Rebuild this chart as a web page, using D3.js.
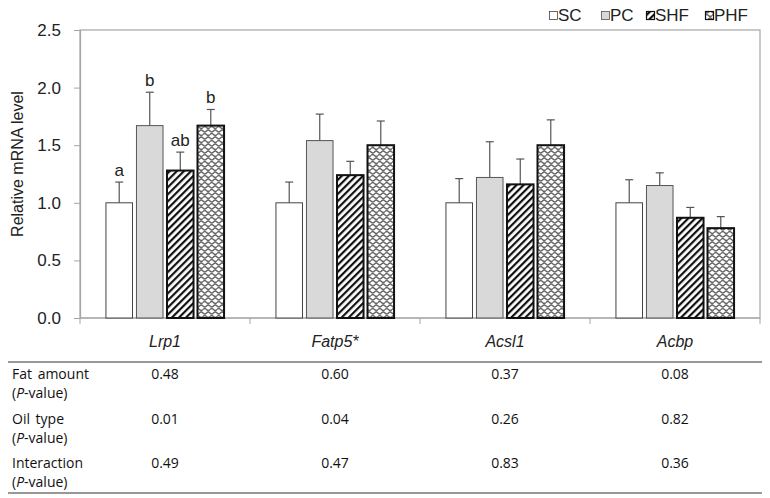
<!DOCTYPE html>
<html>
<head>
<meta charset="utf-8">
<script src="https://cdn.jsdelivr.net/npm/d3@7"></script>
<style>
  body { margin: 0; background: #fff; }
  svg { display: block; }
</style>
</head>
<body>
<div id="chart"></div>
<script>
// data
const genes = ["Lrp1", "Fatp5*", "Acsl1", "Acbp"]
const groups = ["SC", "PC", "SHF", "PHF"]
const means = {
  SC:  [1.00, 1.00, 1.00, 1.00],
  PC:  [1.67, 1.54, 1.22, 1.15],
  SHF: [1.28, 1.24, 1.16, 0.87],
  PHF: [1.67, 1.50, 1.50, 0.78]
}
const errs = {
  SC:  [0.18, 0.18, 0.21, 0.20],
  PC:  [0.29, 0.23, 0.31, 0.11],
  SHF: [0.16, 0.12, 0.22, 0.09],
  PHF: [0.14, 0.21, 0.22, 0.10]
}
// significance letters (only Lrp1 has them)
const letters = {
  SC: ["a", "", "", ""],
  PC: ["b", "", "", ""],
  SHF: ["ab", "", "", ""],
  PHF: ["b", "", "", ""]
}
const yTicks = [0, 0.5, 1.0, 1.5, 2.0, 2.5]
const rowLabels = [["Fat amount", "P"], ["Oil type", "P"], ["Interaction", "P"]]
const pFat = ["0.48", "0.60", "0.37", "0.08"]
const pOil = ["0.01", "0.04", "0.26", "0.82"]
const pInter = ["0.49", "0.47", "0.83", "0.36"]

//dimensions
const width = 770, height = 498
const plot = { left: 80, right: 760, top: 30, bottom: 318 }

const svg = d3.select("#chart").append("svg")
  .attr("width", width).attr("height", height)
  .style("font-family", "'Liberation Sans', Arial, sans-serif")

//patterns
const defs = svg.append("defs")
const hatch = defs.append("pattern").attr("id", "hatch")
  .attr("patternUnits", "userSpaceOnUse").attr("width", 5).attr("height", 5)
  .attr("patternTransform", "rotate(45)")
hatch.append("rect").attr("width", 5).attr("height", 5).attr("fill", "#fff")
hatch.append("rect").attr("width", 2.2).attr("height", 5).attr("fill", "#111")

const wave = defs.append("pattern").attr("id", "wave")
  .attr("patternUnits", "userSpaceOnUse").attr("width", 7).attr("height", 7)
wave.append("rect").attr("width", 7).attr("height", 7).attr("fill", "#fff")
wave.append("path")
  .attr("d", "M0,1.5 Q1.75,-0.5 3.5,1.5 T7,1.5 M-3.5,5 Q-1.75,3 0,5 T3.5,5 T7,5 T10.5,5")
  .attr("fill", "none").attr("stroke", "#666").attr("stroke-width", 1.3)

const fills = { SC: "#fff", PC: "#d9d9d9", SHF: "url(#hatch)", PHF: "url(#wave)" }
const strokes = { SC: "#444", PC: "#555", SHF: "#111", PHF: "#111" }
const strokeW = { SC: 1, PC: 1, SHF: 2, PHF: 2 }

//scales
const x0 = d3.scaleBand().domain(genes).range([plot.left, plot.right]).padding(0)
const x1 = d3.scaleBand().domain(groups).range([0, x0.bandwidth()])
  .paddingInner(0.13).paddingOuter(0.85)
const y = d3.scaleLinear().domain([0, 2.5]).range([plot.bottom, plot.top])

//frame
svg.append("rect")
  .attr("x", plot.left).attr("y", plot.top)
  .attr("width", plot.right - plot.left).attr("height", plot.bottom - plot.top)
  .attr("fill", "none").attr("stroke", "#a6a6a6").attr("stroke-width", 1.2)

//y axis
const yAxis = svg.append("g").attr("transform", `translate(${plot.left},0)`)
  .call(d3.axisLeft(y).tickValues(yTicks).tickFormat(d3.format(".1f")).tickSize(6).tickPadding(13))
yAxis.select(".domain").attr("stroke", "#a6a6a6").attr("stroke-width", 1.2)
yAxis.selectAll(".tick line").attr("stroke", "#a6a6a6")
yAxis.selectAll(".tick text").attr("font-size", 17).attr("fill", "#222")
  .style("font-family", "'Liberation Sans', Arial, sans-serif")

svg.append("text")
  .attr("transform", `translate(23,164) rotate(-90)`)
  .attr("text-anchor", "middle")
  .attr("font-size", 16).attr("fill", "#222")
  .text("Relative mRNA level")

//x axis
const xAxis = svg.append("g").attr("transform", `translate(0,${plot.bottom})`)
xAxis.append("line").attr("x1", plot.left).attr("x2", plot.right)
  .attr("stroke", "#a6a6a6").attr("stroke-width", 1.2)
xAxis.selectAll(".xt")
  .data(genes.map(g => x0(g)).concat([plot.right]))
  .enter().append("line")
  .attr("x1", d => d).attr("x2", d => d).attr("y1", 0).attr("y2", 6)
  .attr("stroke", "#a6a6a6")

svg.selectAll(".gene")
  .data(genes).enter().append("text")
  .attr("x", d => x0(d) + x0.bandwidth() / 2)
  .attr("y", 347)
  .attr("text-anchor", "middle")
  .attr("font-size", 16).attr("font-style", "italic").attr("fill", "#222")
  .text(d => d)

//bars
const barData = []
genes.forEach((g, i) => {
  groups.forEach(s => {
    barData.push({ gene: g, group: s, value: means[s][i], err: errs[s][i], letter: letters[s][i] })
  })
})

const bars = svg.append("g")
const barX = d => x0(d.gene) + x1(d.group)

bars.selectAll(".err")
  .data(barData).enter().append("line")
  .attr("x1", d => barX(d) + x1.bandwidth() / 2)
  .attr("x2", d => barX(d) + x1.bandwidth() / 2)
  .attr("y1", d => y(d.value)).attr("y2", d => y(d.value + d.err))
  .attr("stroke", "#555").attr("stroke-width", 1.2)
bars.selectAll(".cap")
  .data(barData).enter().append("line")
  .attr("x1", d => barX(d) + x1.bandwidth() / 2 - 4)
  .attr("x2", d => barX(d) + x1.bandwidth() / 2 + 4)
  .attr("y1", d => y(d.value + d.err)).attr("y2", d => y(d.value + d.err))
  .attr("stroke", "#555").attr("stroke-width", 1.2)

bars.selectAll(".bar")
  .data(barData).enter().append("rect")
  .attr("x", barX)
  .attr("y", d => y(d.value))
  .attr("width", x1.bandwidth())
  .attr("height", d => y(0) - y(d.value))
  .attr("fill", d => fills[d.group])
  .attr("stroke", d => strokes[d.group])
  .attr("stroke-width", d => strokeW[d.group])

bars.selectAll(".letter")
  .data(barData.filter(d => d.letter)).enter().append("text")
  .attr("x", d => barX(d) + x1.bandwidth() / 2)
  .attr("y", d => y(d.value + d.err) - 6)
  .attr("text-anchor", "middle")
  .attr("font-size", 17).attr("fill", "#222")
  .text(d => d.letter)

//legend
const legendX = [549, 601, 646, 705]
const legend = svg.append("g")
groups.forEach((s, i) => {
  const item = legend.append("g").attr("transform", `translate(${legendX[i]},7)`)
  item.append("rect").attr("x", 0.5).attr("y", 4.5).attr("width", 8).attr("height", 8)
    .attr("fill", fills[s]).attr("stroke", strokes[s]).attr("stroke-width", s === "SC" || s === "PC" ? 0.8 : 1.2)
  item.append("text").attr("x", 9).attr("y", 13.5)
    .attr("font-size", 17).attr("fill", "#222").text(s)
})

//table
const table = svg.append("g").style("font-family", "'Open Sans', 'Noto Sans', sans-serif")
table.append("line").attr("x1", 8).attr("x2", 762).attr("y1", 362).attr("y2", 362)
  .attr("stroke", "#333").attr("stroke-width", 1.2)
table.append("line").attr("x1", 8).attr("x2", 762).attr("y1", 493).attr("y2", 493)
  .attr("stroke", "#333").attr("stroke-width", 1.2)

const rowY = [379, 424, 468]
const rowValues = [pFat, pOil, pInter]
rowLabels.forEach((r, i) => {
  table.append("text").attr("x", 12).attr("y", rowY[i])
    .attr("font-size", 14).attr("fill", "#111")
    .attr("word-spacing", r[0] === "Fat amount" || r[0] === "Oil type" ? 2 : 0)
    .text(r[0])
  const t = table.append("text").attr("x", 12).attr("y", rowY[i] + 19)
    .attr("font-size", 14).attr("fill", "#111")
  t.append("tspan").text("(")
  t.append("tspan").attr("font-style", "italic").text(r[1])
  t.append("tspan").text("-value)")

  table.selectAll(".v" + i)
    .data(rowValues[i]).enter().append("text")
    .attr("x", (d, j) => x0(genes[j]) + x0.bandwidth() / 2)
    .attr("y", rowY[i])
    .attr("text-anchor", "middle")
    .attr("font-size", 14).attr("fill", "#111")
    .text(d => d)
})
</script>
</body>
</html>
